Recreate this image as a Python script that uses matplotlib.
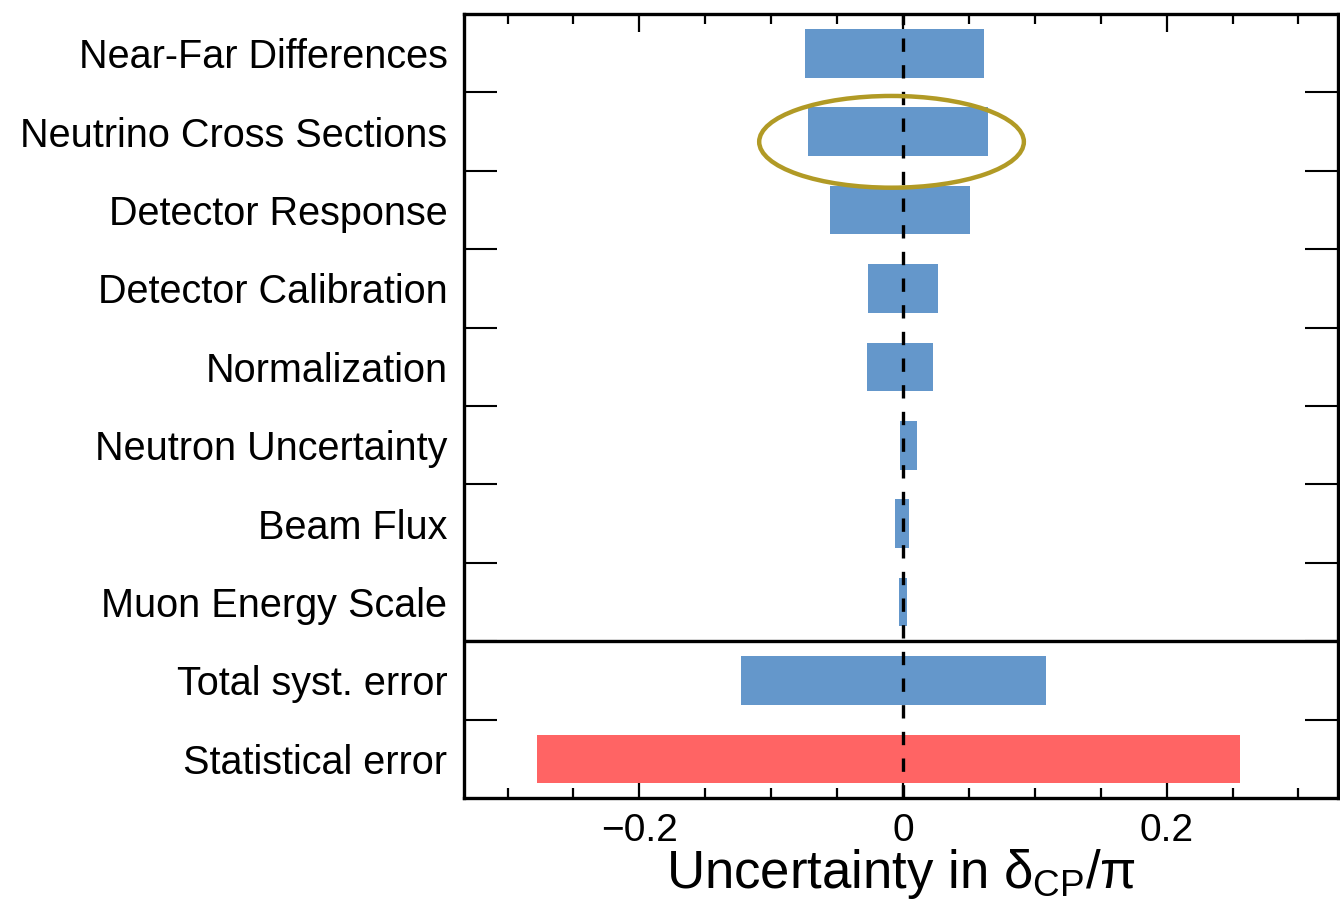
import numpy as np
import matplotlib
matplotlib.use("Agg")
import matplotlib.pyplot as plt
from matplotlib.patches import Ellipse
from matplotlib.ticker import MultipleLocator

plt.rcParams['font.family'] = ['Liberation Sans', 'DejaVu Sans']
plt.rcParams['mathtext.fontset'] = 'custom'
plt.rcParams['mathtext.rm'] = 'Liberation Sans'
plt.rcParams['mathtext.it'] = 'Liberation Sans'

# systematic sources, top to bottom
sources = ['Near-Far Differences', 'Neutrino Cross Sections', 'Detector Response',
           'Detector Calibration', 'Normalization', 'Neutron Uncertainty',
           'Beam Flux', 'Muon Energy Scale', 'Total syst. error', 'Statistical error']
# shifts in delta_CP/pi (negative side, positive side)
err_low = [-0.0742, -0.0722, -0.0553, -0.0265, -0.0273, -0.0023, -0.0060, -0.0030, -0.1227, -0.2780]
err_high = [0.0614, 0.0646, 0.0508, 0.0265, 0.0227, 0.0106, 0.0045, 0.0030, 0.1083, 0.2553]
bar_colors = ['#6497cb'] * 9 + ['#ff6464']

y = np.arange(len(sources))
low = np.array(err_low)
high = np.array(err_high)

fig = plt.figure(figsize=(13.4, 8.99), dpi=100)
ax = fig.add_axes([0.3463, 0.1123, 0.6522, 0.8721])

ax.barh(y, high - low, left=low, height=0.62, color=bar_colors, zorder=2)
ax.axvline(0, color='black', lw=2.4, linestyle=(0, (4, 4)), zorder=3)
ax.axhline(7.5, color='black', lw=2.4, zorder=3)

# highlight the cross-section row
ax.add_patch(Ellipse((-0.0087, 1.13), 0.2008, 1.17, fill=False,
                     edgecolor='#b19a25', lw=3.2, zorder=4))

ax.set_xlim(-0.333, 0.33)
ax.set_ylim(9.5, -0.5)

ax.xaxis.set_minor_locator(MultipleLocator(0.05))
ax.set_xticks([-0.2, 0, 0.2])
ax.set_xticklabels(['\u22120.2', '0', '0.2'])
ax.tick_params(axis='x', which='both', direction='in', top=True, bottom=True,
               width=1.6, labelsize=28, pad=11)
ax.tick_params(axis='x', which='major', length=13)
ax.tick_params(axis='x', which='minor', length=7)

# row separators as ticks, names on row centres
ax.set_yticks(np.arange(len(sources) - 1) + 0.5)
ax.set_yticklabels([])
ax.set_yticks(y, minor=True)
ax.set_yticklabels(sources, minor=True)
ax.tick_params(axis='y', which='major', direction='in', left=True, right=True,
               length=24, width=1.5)
ax.tick_params(axis='y', which='minor', length=0, labelsize=28.5, pad=12)

for s in ax.spines.values():
    s.set_linewidth(2.4)

ax.set_xlabel(r'Uncertainty in $\delta_{\rm CP}/\pi$', fontsize=38, labelpad=-2)

fig.savefig('out.png', dpi=100)
